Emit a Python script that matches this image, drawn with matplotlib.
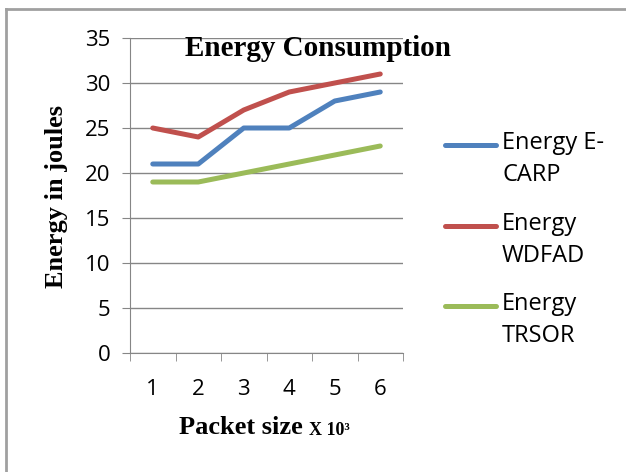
import matplotlib.pyplot as plt
from matplotlib.lines import Line2D

packets = [1, 2, 3, 4, 5, 6]
ecarp = [21, 21, 25, 25, 28, 29]
wdfad = [25, 24, 27, 29, 30, 31]
trsor = [19, 19, 20, 21, 22, 23]
labels = ["Energy E-\nCARP", "Energy\nWDFAD", "Energy\nTRSOR"]
colors = ["#4F81BD", "#C0504D", "#9BBB59"]

sans = "Open Sans"
serif = "Liberation Serif"
grid_c = "#868686"
W, H = 626, 472

fig = plt.figure(figsize=(W / 100, H / 100), dpi=100)
ax = fig.add_axes([130/W, 1 - 353/H, 273/W, 315/H])

for ys, lab, c in zip([ecarp, wdfad, trsor], labels, colors):
    ax.plot(packets, ys, color=c, lw=3.6, label=lab, solid_capstyle="round")

ax.set_xlim(0.5, 6.5)
ax.set_ylim(0, 35)
ax.set_yticks(range(0, 36, 5))
ax.set_xticks(packets)
ax.set_xticks([0.5 + i for i in range(7)], minor=True)
ax.tick_params(axis="x", which="major", length=0, pad=19)
ax.tick_params(axis="x", which="minor", length=6, color=grid_c, direction="out")
ax.tick_params(axis="y", length=6, color=grid_c, pad=8)
for lab in ax.get_xticklabels() + ax.get_yticklabels():
    lab.set_fontfamily(sans)
    lab.set_fontsize(16)
ax.yaxis.grid(True, color=grid_c, lw=1)
ax.set_axisbelow(True)
for s in ["top", "right"]:
    ax.spines[s].set_visible(False)
for s in ["left", "bottom"]:
    ax.spines[s].set_color(grid_c)

# title sits inside the plot area
fig.text(318/W, 1 - 48/H, "Energy Consumption", ha="center", va="center",
         fontfamily=serif, fontweight="bold", fontsize=21)

fig.text(56/W, 1 - 197/H, "Energy in joules", rotation=90, ha="center",
         va="center", fontfamily=serif, fontweight="bold", fontsize=19)

t1 = fig.text(309/W, 1 - 428/H, "Packet size ", ha="right", va="center",
              fontfamily=serif, fontweight="bold", fontsize=19)
ax.annotate("X 10³", xy=(1, 0.02), xycoords=t1, ha="left", va="bottom",
            fontfamily=serif, fontweight="bold", fontsize=13)

# legend, Excel style: handle aligned with first text line
leg_y = [145, 226, 306]
for y, lab, c in zip(leg_y, labels, colors):
    fig.add_artist(Line2D([445/W, 496/W], [1 - y/H, 1 - y/H], color=c, lw=3.6,
                          solid_capstyle="round", transform=fig.transFigure))
    fig.text(502/W, 1 - (y - 14)/H, lab, ha="left", va="top", fontfamily=sans,
             fontsize=17, linespacing=1.45)

# chart border (top and left edges visible)
fig.add_artist(Line2D([6/W, 1], [1 - 9/H, 1 - 9/H], color="#A0A0A0", lw=2,
                      transform=fig.transFigure))
fig.add_artist(Line2D([6/W, 6/W], [0, 1 - 9/H], color="#A0A0A0", lw=2,
                      transform=fig.transFigure))

fig.savefig("out.png", dpi=100)
